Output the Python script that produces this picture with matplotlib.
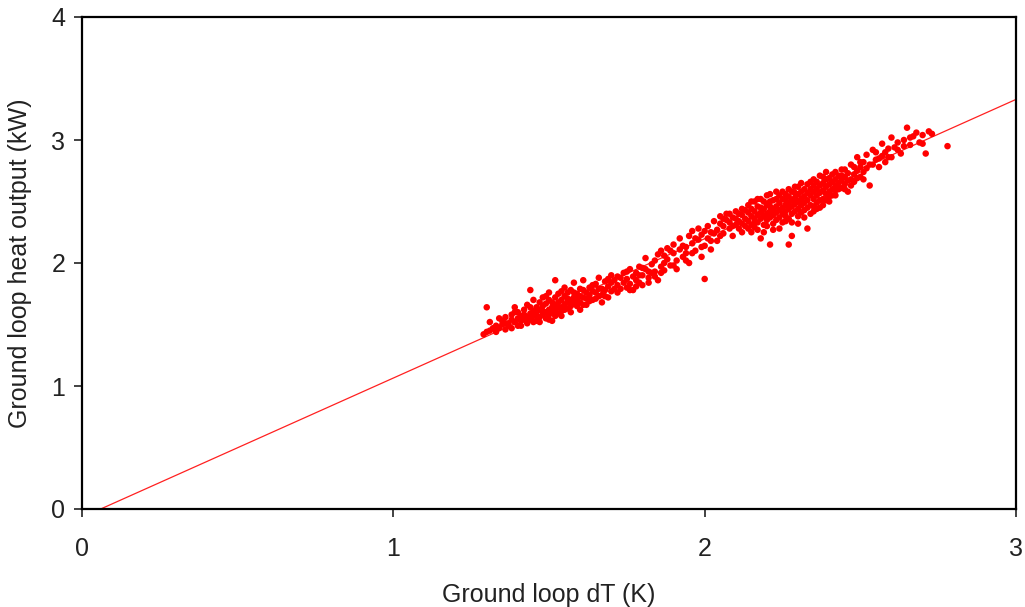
import matplotlib
matplotlib.use("Agg")
import matplotlib.pyplot as plt

plt.rcParams['font.family'] = ['Liberation Sans', 'DejaVu Sans']

# Scatter data: ground loop dT (K) vs heat output (kW)
pts_main = [
    (1.29,1.42),(1.30,1.44),(1.30,1.64),(1.31,1.45),(1.32,1.47),(1.33,1.49),
    (1.34,1.47),(1.35,1.50),(1.35,1.53),(1.36,1.46),(1.36,1.56),(1.37,1.51),(1.37,1.49),(1.38,1.54),(1.38,1.58),
    (1.39,1.52),(1.39,1.60),(1.40,1.55),(1.40,1.49),(1.41,1.57),(1.41,1.53),(1.42,1.58),(1.42,1.62),(1.43,1.51),(1.43,1.56),(1.43,1.66),
    (1.44,1.59),(1.44,1.54),(1.44,1.78),(1.45,1.61),(1.45,1.57),(1.46,1.53),(1.46,1.64),(1.46,1.60),(1.47,1.56),(1.47,1.68),(1.47,1.62),(1.48,1.58),(1.48,1.65),(1.48,1.72),
    (1.49,1.60),(1.49,1.55),(1.49,1.67),(1.50,1.62),(1.50,1.58),(1.50,1.70),(1.50,1.76),(1.51,1.64),(1.51,1.60),(1.51,1.53),(1.52,1.66),(1.52,1.62),(1.52,1.72),(1.52,1.86),(1.53,1.68),(1.53,1.59),(1.53,1.75),
    (1.54,1.64),(1.54,1.70),(1.54,1.61),(1.55,1.66),(1.55,1.73),(1.55,1.80),(1.56,1.68),(1.56,1.63),(1.56,1.76),(1.57,1.70),(1.57,1.65),(1.57,1.78),(1.58,1.72),(1.58,1.67),(1.58,1.84),
    (1.59,1.70),(1.59,1.75),(1.60,1.68),(1.60,1.73),(1.60,1.79),(1.61,1.72),(1.61,1.66),(1.61,1.86),(1.62,1.76),(1.62,1.71),(1.63,1.74),(1.63,1.80),
    (1.64,1.77),(1.64,1.70),(1.65,1.83),(1.65,1.76),(1.66,1.73),(1.66,1.88),(1.67,1.79),(1.67,1.74),(1.68,1.85),(1.68,1.78),(1.69,1.81),(1.69,1.72),(1.70,1.84),(1.70,1.90),(1.71,1.79),(1.71,1.86),(1.72,1.82),(1.72,1.76),(1.73,1.88),
    (1.74,1.84),(1.74,1.92),(1.75,1.80),(1.75,1.87),(1.76,1.95),(1.76,1.83),(1.77,1.89),(1.77,1.78),(1.78,1.92),(1.78,1.86),(1.79,1.97),(1.79,1.84),(1.80,1.90),(1.80,1.82),(1.81,1.95),(1.81,2.04),(1.82,1.88),(1.82,1.93),(1.83,1.99),
    (1.84,1.93),(1.84,2.02),(1.85,1.86),(1.85,2.07),(1.86,1.97),(1.86,2.10),(1.87,2.00),(1.87,1.94),(1.88,2.12),(1.88,2.03),(1.89,1.98),(1.90,2.08),(1.90,2.15),(1.91,2.02),(1.91,1.95),(1.92,2.11),(1.92,2.20),(1.93,2.05),
    (1.94,2.13),(1.94,2.08),(1.95,2.22),(1.95,2.00),(1.96,2.16),(1.96,2.26),(1.97,2.10),(1.98,2.19),(1.98,2.28),(1.99,2.05),(1.99,2.23),(2.00,1.87),(2.00,2.14),(2.01,2.30),(2.01,2.20),(2.02,2.25),(2.02,2.11),(2.03,2.34),
    (2.04,2.27),(2.04,2.18),(2.05,2.32),(2.05,2.38),(2.06,2.24),(2.06,2.30),(2.07,2.35),(2.07,2.40),(2.08,2.28),(2.08,2.33),(2.09,2.37),(2.09,2.22),(2.10,2.31),(2.10,2.42),(2.10,2.36),(2.11,2.34),(2.11,2.28),(2.12,2.39),(2.12,2.44),(2.12,2.32),(2.13,2.36),(2.13,2.30),
    (2.14,2.41),(2.14,2.34),(2.14,2.47),(2.15,2.38),(2.15,2.31),(2.15,2.44),(2.15,2.25),(2.16,2.36),(2.16,2.42),(2.16,2.50),(2.16,2.29),(2.17,2.39),(2.17,2.33),(2.17,2.46),(2.18,2.41),(2.18,2.36),(2.18,2.52),(2.18,2.20),(2.19,2.38),(2.19,2.44),(2.19,2.31),(2.20,2.40),(2.20,2.47),(2.20,2.35),(2.20,2.55),(2.21,2.42),(2.21,2.37),(2.21,2.15),(2.21,2.50),(2.22,2.44),(2.22,2.39),(2.22,2.32),(2.23,2.46),(2.23,2.41),(2.23,2.58),
    (2.24,2.43),(2.24,2.49),(2.24,2.37),(2.24,2.28),(2.25,2.45),(2.25,2.52),(2.25,2.40),(2.26,2.47),(2.26,2.42),(2.26,2.56),(2.26,2.34),(2.27,2.49),(2.27,2.44),(2.27,2.15),(2.27,2.60),(2.28,2.51),(2.28,2.46),(2.28,2.40),(2.28,2.22),(2.29,2.53),(2.29,2.48),(2.29,2.62),(2.30,2.50),(2.30,2.44),(2.30,2.56),(2.30,2.38),(2.31,2.52),(2.31,2.47),(2.31,2.65),(2.32,2.54),(2.32,2.49),(2.32,2.43),(2.33,2.57),(2.33,2.51),(2.33,2.28),
    (2.34,2.55),(2.34,2.60),(2.34,2.47),(2.35,2.58),(2.35,2.52),(2.35,2.68),(2.35,2.42),(2.36,2.60),(2.36,2.55),(2.36,2.49),(2.37,2.63),(2.37,2.57),(2.37,2.71),(2.37,2.45),(2.38,2.59),(2.38,2.65),(2.38,2.52),(2.39,2.62),(2.39,2.56),(2.39,2.74),(2.40,2.64),(2.40,2.58),(2.40,2.69),(2.40,2.50),(2.41,2.66),(2.41,2.60),(2.41,2.72),(2.42,2.63),(2.42,2.68),(2.42,2.55),(2.43,2.65),(2.43,2.71),
    (2.44,2.67),(2.44,2.61),(2.44,2.76),(2.45,2.70),(2.45,2.64),(2.46,2.73),(2.46,2.58),(2.47,2.68),(2.47,2.80),(2.48,2.72),(2.48,2.66),(2.49,2.75),(2.49,2.86),(2.50,2.70),(2.50,2.78),(2.51,2.82),(2.51,2.74),(2.52,2.88),(2.52,2.77),(2.53,2.63),
    (2.54,2.80),(2.54,2.92),(2.55,2.84),(2.56,2.78),(2.57,2.87),(2.57,2.97),(2.58,2.82),(2.58,2.90),(2.59,2.93),(2.60,2.86),(2.60,3.02),(2.61,2.94),(2.62,2.98),(2.63,2.89),(2.64,3.00),(2.65,3.10),(2.66,2.96),(2.67,3.03),(2.68,3.06),(2.69,2.98),(2.70,3.04),(2.71,2.89),(2.72,3.07),(2.73,3.05),(2.78,2.95),
]
pts_extra = [
    (1.31,1.52),(1.33,1.44),(1.34,1.55),(1.36,1.51),(1.38,1.47),(1.39,1.64),(1.40,1.60),(1.41,1.49),(1.42,1.54),(1.44,1.64),(1.45,1.52),(1.45,1.70),(1.46,1.57),(1.47,1.52),(1.48,1.61),(1.49,1.73),(1.50,1.54),(1.51,1.68),(1.52,1.57),(1.53,1.64),
    (1.54,1.57),(1.54,1.77),(1.55,1.62),(1.56,1.71),(1.57,1.60),(1.58,1.76),(1.59,1.65),(1.60,1.62),(1.61,1.78),(1.62,1.66),(1.63,1.69),(1.64,1.82),(1.65,1.71),(1.66,1.79),(1.67,1.68),(1.68,1.73),(1.69,1.87),(1.70,1.77),(1.72,1.89),(1.73,1.79),
    (1.75,1.93),(1.76,1.78),(1.78,1.81),(1.79,1.90),(1.80,1.96),(1.82,1.84),(1.83,1.92),(1.84,1.89),(1.86,1.92),(1.87,2.06),(1.89,2.10),(1.90,1.98),(1.93,2.14),(1.94,2.02),(1.96,2.08),(1.97,2.20),(1.99,2.13),(2.00,2.26),(2.02,2.18),(2.03,2.24),
    (2.05,2.22),(2.06,2.36),(2.08,2.40),(2.09,2.30),(2.11,2.40),(2.12,2.25),(2.13,2.43),(2.14,2.28),(2.15,2.50),(2.16,2.33),(2.17,2.52),(2.17,2.27),(2.18,2.45),(2.19,2.25),(2.19,2.50),(2.20,2.30),(2.21,2.46),(2.21,2.56),(2.22,2.27),(2.22,2.51),
    (2.23,2.35),(2.23,2.52),(2.24,2.55),(2.25,2.33),(2.25,2.58),(2.26,2.38),(2.26,2.51),(2.27,2.36),(2.27,2.54),(2.28,2.58),(2.28,2.33),(2.29,2.42),(2.29,2.57),(2.30,2.32),(2.30,2.62),(2.31,2.41),(2.31,2.58),(2.32,2.37),(2.32,2.60),(2.33,2.45),
    (2.33,2.64),(2.34,2.40),(2.34,2.66),(2.35,2.46),(2.35,2.63),(2.36,2.44),(2.36,2.66),(2.37,2.51),(2.38,2.47),(2.38,2.70),(2.39,2.51),(2.39,2.68),(2.40,2.54),(2.41,2.55),(2.42,2.59),(2.42,2.74),(2.43,2.60),(2.44,2.71),(2.45,2.76),(2.45,2.60),
    (2.46,2.67),(2.47,2.63),(2.48,2.78),(2.49,2.69),(2.50,2.82),(2.51,2.68),(2.53,2.80),(2.55,2.90),(2.56,2.85),(2.59,2.86),(2.62,2.92),(2.64,2.95),(2.66,3.02),(2.70,2.97),
]
dT = [p[0] for p in pts_main + pts_extra]
heat = [p[1] for p in pts_main + pts_extra]

# Fitted trend line end points
fit_x = [0.06, 3.0]
fit_y = [0.0, 3.33]

x_ticks = [0, 1, 2, 3]
y_ticks = [0, 1, 2, 3, 4]

fig = plt.figure(figsize=(10.25, 6.07), dpi=100)
ax = fig.add_axes([82/1025, 98/607, 934/1025, 492/607])

ax.plot(fit_x, fit_y, color='#ff2020', lw=0.9, zorder=2)
ax.scatter(dT, heat, s=22, color='#ff0000', edgecolors='none', zorder=3)

ax.set_xlim(0, 3)
ax.set_ylim(0, 4)
ax.set_xticks(x_ticks)
ax.set_yticks(y_ticks)
for s in ax.spines.values():
    s.set_linewidth(1.6)
    s.set_color('black')
ax.tick_params(direction='out', length=6, width=1.2, labelsize=18, colors='#222222')
ax.tick_params(axis='x', pad=14)
ax.tick_params(axis='y', pad=6)
ax.set_xlabel('Ground loop dT (K)', fontsize=18, color='#222222', labelpad=16)
ax.set_ylabel('Ground loop heat output (kW)', fontsize=18, color='#222222', labelpad=14)

fig.savefig('out.png', dpi=100)
